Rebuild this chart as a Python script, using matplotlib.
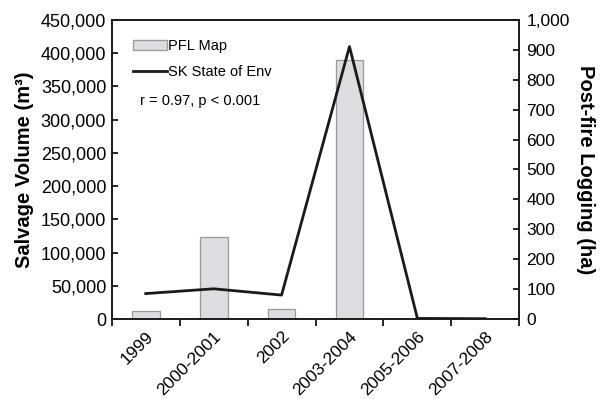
import matplotlib
matplotlib.use('Agg')
import matplotlib.pyplot as plt
from matplotlib.ticker import FuncFormatter
from matplotlib.patches import Patch
from matplotlib.lines import Line2D
import numpy as np

plt.rcParams['font.family'] = ['Liberation Sans', 'DejaVu Sans']

periods = ['1999', '2000-2001', '2002', '2003-2004', '2005-2006', '2007-2008']
pfl_map = [12000, 124000, 15000, 390000, 0, 0]          # m3
sk_state = [85, 101, 80, 911, 2, 1]                       # ha

fig = plt.figure(figsize=(6.01, 3.99), dpi=100)
ax = fig.add_axes([0.186, 0.2005, 0.678, 0.7495])
ax2 = ax.twinx()

x = np.arange(len(periods))
ax.bar(x, pfl_map, width=0.41, color='#dcdde0', edgecolor='#9a9a9a', linewidth=0.9, zorder=2)
ax2.plot(x, sk_state, color='#1a1a1a', linewidth=2, zorder=3)

ax.set_xlim(-0.5, len(periods) - 0.5)
ax.set_ylim(0, 450000)
ax.set_yticks(np.arange(0, 450001, 50000))
ax.yaxis.set_major_formatter(FuncFormatter(lambda v, p: f'{int(v):,}'))
ax2.set_ylim(0, 1000)
ax2.set_yticks(np.arange(0, 1001, 100))
ax2.yaxis.set_major_formatter(FuncFormatter(lambda v, p: f'{int(v):,}'))

# x ticks sit between categories, labels at the centres
ax.set_xticks(np.arange(-0.5, len(periods), 1))
ax.set_xticklabels([])
ax.set_xticks(x, minor=True)
ax.set_xticklabels(periods, minor=True, rotation=45, ha='right', rotation_mode='anchor', fontsize=12.5)
ax.tick_params(axis='x', which='major', direction='out', length=5, width=1.2)
ax.tick_params(axis='x', which='minor', length=0, pad=7)
ax.tick_params(axis='y', direction='in', length=4, width=1.2, labelsize=13, pad=4)
ax2.tick_params(axis='y', direction='in', length=4, width=1.2, labelsize=12.5, pad=5)

for a in (ax, ax2):
    for s in a.spines.values():
        s.set_linewidth(1.2)
        s.set_color('#1a1a1a')

ax.set_ylabel('Salvage Volume (m³)', fontsize=14.5, fontweight='bold', labelpad=5)
ax2.set_ylabel('Post-fire Logging (ha)', fontsize=14.5, fontweight='bold', rotation=270, labelpad=18)

handles = [Patch(facecolor='#dcdde0', edgecolor='#9a9a9a', label='PFL Map'),
           Line2D([0], [0], color='#1a1a1a', linewidth=2, label='SK State of Env')]
ax.legend(handles=handles, loc='upper left', bbox_to_anchor=(0.02, 0.98), frameon=False,
          fontsize=10.5, handlelength=2.3, handletextpad=0.1, labelspacing=0.8)
ax.text(0.07, 0.73, 'r = 0.97, p < 0.001', transform=ax.transAxes, fontsize=10.5, va='center')

fig.savefig('out.png', dpi=100)
